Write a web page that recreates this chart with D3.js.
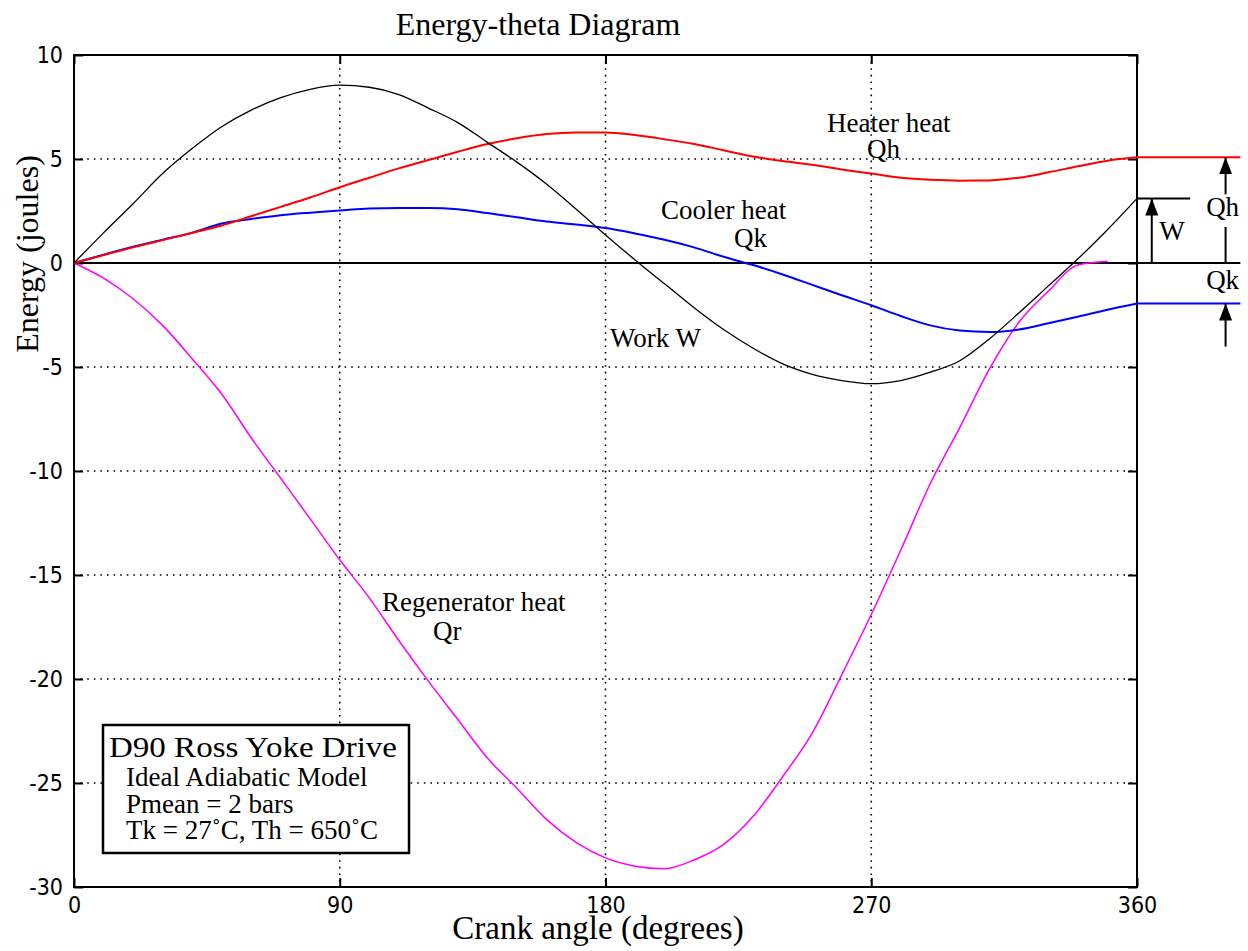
<!DOCTYPE html>
<html>
<head>
<meta charset="utf-8">
<script src="https://cdn.jsdelivr.net/npm/d3@7"></script>
<style>
  body { margin: 0; background: #fff; }
  .serif { font-family: "Liberation Serif", "Times New Roman", serif; fill: #000; }
  .tick text { font-family: "Liberation Sans Narrow", "DejaVu Sans Condensed", sans-serif; font-size: 23px; fill: #000; }
</style>
</head>
<body>
<script>
const width = 1248, height = 951;
const margin = { top: 55, right: 111, bottom: 64, left: 74 };
const innerWidth = width - margin.left - margin.right;
const innerHeight = height - margin.top - margin.bottom;

// crank angle (degrees)
const theta = [0, 10, 20, 30, 40, 50, 60, 70, 80, 90, 100, 110, 120, 130, 140, 150, 160, 170, 180,
  190, 200, 210, 220, 230, 240, 250, 260, 270, 280, 290, 300, 310, 320, 330, 340, 350, 360];

// energies (joules)
const work = [0, 1.45, 2.85, 4.3, 5.5, 6.55, 7.35, 7.95, 8.35, 8.55, 8.45, 8.1, 7.45, 6.75, 5.8, 4.85,
  3.8, 2.6, 1.35, 0.15, -1.0, -2.15, -3.2, -4.1, -4.85, -5.35, -5.65, -5.8, -5.65, -5.25, -4.7,
  -3.65, -2.4, -1.1, 0.2, 1.6, 3.1];
const heater = [0, 0.38, 0.75, 1.1, 1.45, 1.8, 2.25, 2.7, 3.15, 3.64, 4.1, 4.55, 4.95, 5.35, 5.72, 6.0,
  6.2, 6.28, 6.28, 6.15, 5.95, 5.72, 5.42, 5.12, 4.9, 4.72, 4.5, 4.3, 4.1, 4.0, 3.96, 3.97, 4.1,
  4.36, 4.65, 4.92, 5.08];
const cooler = [0, 0.4, 0.78, 1.12, 1.45, 1.9, 2.12, 2.3, 2.42, 2.52, 2.62, 2.64, 2.64, 2.58, 2.4, 2.2,
  2.0, 1.85, 1.68, 1.42, 1.12, 0.75, 0.3, -0.1, -0.55, -1.05, -1.55, -2.03, -2.55, -3.0, -3.25,
  -3.32, -3.2, -2.9, -2.58, -2.25, -1.95];
const regen = [0, -0.73, -1.72, -3.0, -4.6, -6.3, -8.4, -10.35, -12.3, -14.27, -16.1, -18.15, -20.1,
  -21.95, -23.8, -25.25, -26.75, -27.85, -28.6, -29.0, -29.12, -28.7, -27.95, -26.6, -24.7, -22.6,
  -19.8, -16.9, -13.8, -10.6, -7.9, -5.1, -2.85, -1.35, -0.1, 0.08, null];

const xTicks = [0, 90, 180, 270, 360];
const yTicks = [-30, -25, -20, -15, -10, -5, 0, 5, 10];
const xGrid = [90, 180, 270];
const yGrid = [-25, -20, -15, -10, -5, 5];

const legendLines = ['Ideal Adiabatic Model', 'Pmean = 2 bars', 'Tk = 27\u02DAC, Th = 650\u02DAC'];

const svg = d3.select('body')
    .append('svg')
    .attr('width', width)
    .attr('height', height);

const xScale = d3.scaleLinear().domain([0, 360]).range([0, innerWidth]);
const yScale = d3.scaleLinear().domain([-30, 10]).range([innerHeight, 0]);

const g = svg.append('g').attr('transform', `translate(${margin.left}, ${margin.top})`);

// dotted grid
g.selectAll('.xgrid').data(xGrid).enter().append('line')
    .attr('x1', d => xScale(d)).attr('x2', d => xScale(d))
    .attr('y1', 0).attr('y2', innerHeight)
    .attr('stroke', '#000').attr('stroke-width', 1.6).attr('stroke-dasharray', '1.6 5');
g.selectAll('.ygrid').data(yGrid).enter().append('line')
    .attr('x1', 0).attr('x2', innerWidth)
    .attr('y1', d => yScale(d)).attr('y2', d => yScale(d))
    .attr('stroke', '#000').attr('stroke-width', 1.6).attr('stroke-dasharray', '1.6 5');

// axes with inward ticks, plain hyphen for negatives
const fmt = d => String(d);
g.append('g').call(d3.axisLeft(yScale).tickValues(yTicks).tickFormat(fmt).tickSizeInner(-9).tickSizeOuter(0).tickPadding(11));
g.append('g').attr('transform', `translate(0,${innerHeight})`)
    .call(d3.axisBottom(xScale).tickValues(xTicks).tickFormat(fmt).tickSizeInner(-9).tickSizeOuter(0).tickPadding(10));
g.append('g').attr('transform', `translate(${innerWidth},0)`)
    .call(d3.axisRight(yScale).tickValues(yTicks).tickSizeInner(-9).tickSizeOuter(0).tickFormat(''));
g.append('g')
    .call(d3.axisTop(xScale).tickValues(xTicks).tickSizeInner(-9).tickSizeOuter(0).tickFormat(''));
g.selectAll('.domain').remove();
g.selectAll('.tick line').attr('stroke', '#000').attr('stroke-width', 2);

// zero line, extended to the right
g.append('line')
    .attr('x1', xScale(0)).attr('x2', xScale(395))
    .attr('y1', yScale(0)).attr('y2', yScale(0))
    .attr('stroke', '#000').attr('stroke-width', 2);

// frame
g.append('rect')
    .attr('x', 0).attr('y', 0).attr('width', innerWidth).attr('height', innerHeight)
    .attr('fill', 'none').attr('stroke', '#000').attr('stroke-width', 2);

const line = d3.line()
    .defined(d => d[1] != null)
    .curve(d3.curveMonotoneX)
    .x(d => xScale(d[0]))
    .y(d => yScale(d[1]));

const series = [
  { values: regen, color: '#ff00ff', w: 1.5 },
  { values: cooler, color: '#0000ff', w: 2 },
  { values: heater, color: '#ff0000', w: 2 },
  { values: work, color: '#000000', w: 1.3 }
];

series.forEach(s => {
  g.append('path')
      .attr('d', line(theta.map((t, i) => [t, s.values[i]])))
      .attr('fill', 'none')
      .attr('stroke', s.color)
      .attr('stroke-width', s.w);
});

// end values carried past the right axis
const last = arr => arr[arr.length - 1];
[[heater, '#ff0000', 395, 2], [cooler, '#0000ff', 395, 2], [work, '#000', 378, 1.8]].forEach(([arr, c, end, w]) => {
  g.append('line')
      .attr('x1', xScale(360)).attr('x2', xScale(end))
      .attr('y1', yScale(last(arr))).attr('y2', yScale(last(arr)))
      .attr('stroke', c).attr('stroke-width', w);
});

// arrow heads
svg.append('defs').append('marker')
    .attr('id', 'arrow')
    .attr('viewBox', '0 0 17 13')
    .attr('refX', 17).attr('refY', 6.5)
    .attr('markerWidth', 17).attr('markerHeight', 13)
    .attr('markerUnits', 'userSpaceOnUse')
    .attr('orient', 'auto')
    .append('path').attr('d', 'M0,0 L17,6.5 L0,13 Z').attr('fill', '#000');

const arrow = (x, y1, y2, head) => {
  const l = g.append('line')
      .attr('x1', x).attr('x2', x).attr('y1', y1).attr('y2', y2)
      .attr('stroke', '#000').attr('stroke-width', 2);
  if (head) l.attr('marker-end', 'url(#arrow)');
};
// W
arrow(xScale(365), yScale(0), yScale(last(work)), true);
// Qh (split around the label)
arrow(xScale(390), yScale(last(heater)) + 37, yScale(last(heater)), true);
arrow(xScale(390), yScale(0), yScale(0) - 36, false);
// Qk
arrow(xScale(390), yScale(last(cooler)) + 43, yScale(last(cooler)), true);

const label = (txt, x, y, size, anchor) => g.append('text')
    .attr('class', 'serif')
    .attr('x', x).attr('y', y)
    .attr('text-anchor', anchor || 'start')
    .style('font-size', size + 'px')
    .text(txt);

label('W', xScale(367.5), yScale(0) - 23, 27);
label('Qh', xScale(389), yScale(0) - 47, 27, 'middle');
label('Qk', xScale(389), yScale(0) + 26, 27, 'middle');

// curve labels
label('Heater heat', xScale(255), yScale(6.3), 27);
label('Qh', xScale(268.6), yScale(5.05), 27);
label('Cooler heat', xScale(198.8), yScale(2.12), 27);
label('Qk', xScale(223.5), yScale(0.77), 27);
label('Work W', xScale(181.5), yScale(-4.04), 27);
label('Regenerator heat', xScale(104.3), yScale(-16.73), 27);
label('Qr', xScale(121.6), yScale(-18.13), 27);

// info box
const box = g.append('g').attr('transform', 'translate(29,670)');
box.append('rect').attr('width', 306).attr('height', 128)
    .attr('fill', '#fff').attr('stroke', '#000').attr('stroke-width', 2.5);
box.append('text').attr('class', 'serif')
    .attr('x', 6).attr('y', 32)
    .style('font-size', '29px')
    .attr('textLength', 288).attr('lengthAdjust', 'spacingAndGlyphs')
    .text('D90 Ross Yoke Drive');
box.selectAll('.info').data(legendLines).enter().append('text')
    .attr('class', 'serif')
    .attr('x', 23)
    .attr('y', (d, i) => 61 + i * 26.5)
    .style('font-size', '27px')
    .text(d => d);

// headings
svg.append('text').attr('class', 'serif')
    .attr('x', 538).attr('y', 35)
    .attr('text-anchor', 'middle')
    .style('font-size', '32px')
    .text('Energy-theta Diagram');
svg.append('text').attr('class', 'serif')
    .attr('x', 598).attr('y', 939)
    .attr('text-anchor', 'middle')
    .style('font-size', '33px')
    .text('Crank angle (degrees)');
svg.append('text').attr('class', 'serif')
    .attr('transform', 'translate(38,254) rotate(-90)')
    .attr('text-anchor', 'middle')
    .style('font-size', '32px')
    .text('Energy (joules)');
</script>
</body>
</html>
